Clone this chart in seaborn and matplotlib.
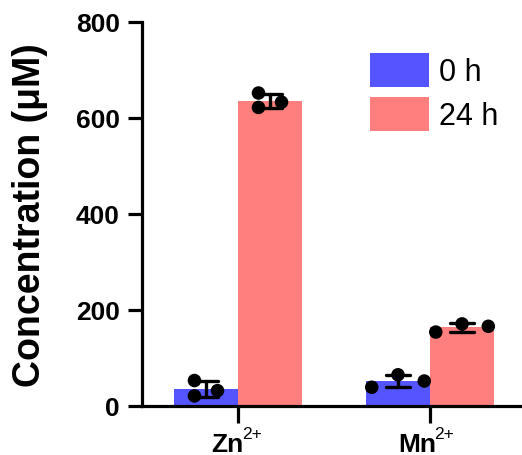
import numpy as np
import pandas as pd
import matplotlib
matplotlib.use("Agg")
import matplotlib.pyplot as plt
import seaborn as sns
from matplotlib.patches import Patch

sns.set_style("white")
plt.rcParams['font.family'] = ['Liberation Sans', 'DejaVu Sans']
plt.rcParams['text.color'] = 'black'
plt.rcParams['axes.labelcolor'] = 'black'
plt.rcParams['xtick.color'] = 'black'
plt.rcParams['ytick.color'] = 'black'

# Data
ions = ["Zn", "Mn"]
ion_charge = ["2+", "2+"]
times = ["0 h", "24 h"]
zn_0h = [53, 21, 32]
zn_24h = [652, 622, 633]
mn_0h = [39, 65, 52]
mn_24h = [154, 171, 166]
# horizontal scatter of replicate dots, as a fraction of one bar width
zn_spread = [-0.18, -0.18, 0.18]
mn_spread = [-0.41, 0.0, 0.41]
colors = ["#5555FF", "#FF7F7F"]

rows = []
for ion, t, vals, spread in [("Zn", "0 h", zn_0h, zn_spread), ("Zn", "24 h", zn_24h, zn_spread),
                             ("Mn", "0 h", mn_0h, mn_spread), ("Mn", "24 h", mn_24h, mn_spread)]:
    for r, v in enumerate(vals):
        rows.append(dict(ion=ion, time=t, rep=r, value=v, spread=spread[r]))
df = pd.DataFrame(rows)

fig = plt.figure(figsize=(5.22, 4.56), dpi=100)
ax = fig.add_axes([0.272, 0.1075, 0.728, 0.8421])

sns.barplot(data=df, x="ion", y="value", hue="time", order=ions, hue_order=times,
            palette=colors, errorbar="sd", capsize=0.25, width=0.667,
            err_kws={"color": "black", "linewidth": 2.4}, saturation=1,
            edgecolor="none", ax=ax, legend=False)

bw = 0.667 / 2
df["xpos"] = (df["ion"].map({k: i for i, k in enumerate(ions)})
              + (df["time"].map({k: i for i, k in enumerate(times)}) - 0.5) * bw
              + df["spread"] * bw)
sns.scatterplot(data=df, x="xpos", y="value", color="black", s=95,
                edgecolor="none", ax=ax, zorder=5, legend=False)

ax.set_xlim(-0.5, 1.479)
ax.set_ylim(0, 800)
ax.set_yticks([0, 200, 400, 600, 800])
ax.set_xticks([0, 1])
ax.set_xticklabels(["", ""])
ax.set_xlabel("")
ax.set_ylabel("Concentration (μM)", fontsize=27, fontweight="bold", labelpad=20)
for lab in ax.get_yticklabels():
    lab.set_fontweight("bold")
    lab.set_fontsize(19)

# category labels with superscript charge
for i, (name, charge) in enumerate(zip(ions, ion_charge)):
    ax.annotate(name, xy=(i, 0), xycoords=("data", "axes fraction"),
                xytext=(6, -45), textcoords="offset pixels", ha="right", va="baseline",
                fontsize=19, fontweight="bold", annotation_clip=False)
    ax.annotate(charge, xy=(i, 0), xycoords=("data", "axes fraction"),
                xytext=(4, -32), textcoords="offset pixels", ha="left", va="baseline",
                fontsize=12.5, annotation_clip=False)

for s in ["top", "right"]:
    ax.spines[s].set_visible(False)
for s in ["left", "bottom"]:
    ax.spines[s].set_linewidth(2.3)
    ax.spines[s].set_color("black")
ax.tick_params(axis="y", direction="out", length=10, width=2.3, pad=6, left=True)
ax.tick_params(axis="x", direction="out", length=12, width=2.3, pad=2, bottom=True)

handles = [Patch(facecolor=c, edgecolor="none") for c in colors]
ax.legend(handles, times, loc="upper right", bbox_to_anchor=(0.985, 0.967),
          frameon=False, fontsize=22, handlelength=1.93, handleheight=1.36,
          labelspacing=0.3, handletextpad=0.33, borderaxespad=0.2)

fig.savefig("out.png", dpi=100)
